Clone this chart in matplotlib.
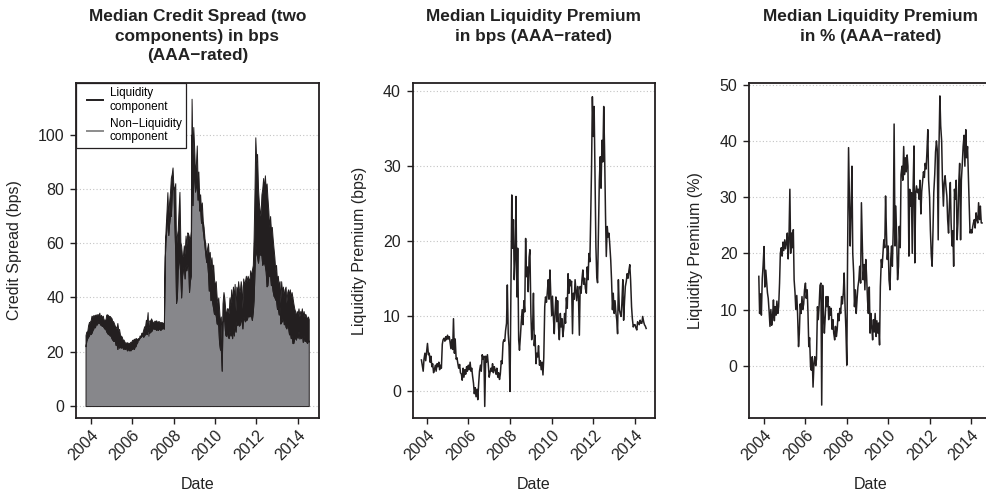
import numpy as np
import pandas as pd
import matplotlib
matplotlib.use("Agg")
import matplotlib.pyplot as plt
from matplotlib.lines import Line2D
from matplotlib.legend_handler import HandlerLine2D

plt.rcParams['font.family'] = ['Liberation Sans', 'DejaVu Sans']

# ---------------- data (semi-monthly observations, Oct 2003 - Jul 2014) ----------------
start_date = "2003-10-01"
n_obs = 260
dates = pd.date_range(start_date, periods=n_obs, freq="SMS")

# non-liquidity component of the median AAA credit spread (bps)
non_liquidity_bps = [
    22, 24, 25, 25.5, 26, 27,
    26.5, 27, 28, 28.5, 29.5, 29, 30.5, 30, 31.5, 30.5, 31, 30, 30, 29.5, 29.5, 29, 28.5, 28.5, 27.5, 27, 26.5, 26.5, 26, 26,
    25, 24.5, 24, 24, 24, 22.5, 23, 21, 23, 21.5, 22, 21.5, 22, 21.5, 21, 21.5, 21, 22, 20.5, 21.5, 20.5, 21, 20.5, 21,
    21, 21.5, 21, 22, 22, 23, 23.5, 25, 24.5, 26, 25.5, 27, 26, 25.5, 26, 26.5, 27, 26.5, 30, 28, 27, 27.5, 27.5, 28,
    29, 28.5, 28.5, 28.5, 28, 28.5, 28, 28.5, 28.5, 28, 29, 28.5, 29, 28.5, 55, 62, 66, 72, 63, 67, 70, 70, 78, 82,
    80, 68, 56, 38, 40, 50, 55, 53, 48, 40, 48, 50, 52, 47, 52, 50, 52, 53, 42, 46, 48, 100, 74, 84,
    84, 79, 81, 83, 76, 79, 72, 73, 67.5, 69, 64.6, 62, 59, 56, 53, 53.6, 48.8, 42.5, 45, 39, 40, 38, 36, 34,
    34, 33.4, 30.4, 30.4, 29.5, 23.5, 20.8, 21, 13, 31, 31.7, 31.5, 26.4, 25.8, 27.6, 25.7, 25, 27.6, 26, 27.4, 25, 29.2, 26, 30.4,
    27.4, 31, 29.8, 31.2, 29.6, 30, 32.1, 31.4, 28.6, 33.1, 32, 31.2, 31.9, 31.8, 33, 33.4, 33, 33.5, 33.2, 31.7, 34.8, 39.2, 50, 59.8,
    56, 55, 52.8, 55.8, 56.8, 55.6, 55.7, 52, 52.8, 53, 51.6, 49.5, 44.1, 44.5, 48.4, 48, 48.1, 44.5, 45, 42.5, 40.6, 40.2, 39.2, 39,
    35.7, 36, 33.7, 36.6, 30.4, 31.2, 31.2, 33.7, 30.1, 31.4, 29.2, 28.6, 30, 29.1, 26.4, 27.4, 25, 26, 23.2, 23.2, 24.8, 25.4, 24.5, 26.2,
    25.2, 27.6, 24.9, 25.8, 25, 27.2, 23.6, 26, 24, 24.1, 23.8, 23.2, 24.4, 23.7,
]

# median liquidity premium (bps)
liquidity_bps = [
    4.1, 3.4, 2.6, 4.2, 5.0, 4.0,
    5.2, 6.3, 4.8, 5.0, 3.8, 4.6, 3.2, 3.6, 2.4, 2.8, 3.4, 2.6, 3.6, 3.2, 3.8, 2.8, 3.4, 3.0, 6.2, 6.8, 7.0, 6.6, 7.2, 6.8,
    7.4, 6.9, 7.2, 6.4, 5.6, 6.8, 5.5, 9.6, 5.0, 6.9, 4.2, 4.4, 3.6, 3.0, 3.5, 2.4, 2.2, 1.4, 3.0, 1.8, 2.8, 2.2, 3.2, 2.6,
    3.4, 2.8, 3.8, 2.6, 3.0, 2.0, 1.0, -0.4, 0.4, -0.8, 0.2, -1.2, 1.0, 2.6, 3.4, 2.6, 4.8, 4.2, 4.6, -2.1, 4.6, 3.8, 4.8, 3.6,
    1.8, 2.4, 3.0, 2.6, 3.6, 2.4, 3.2, 2.8, 2.2, 3.0, 1.8, 2.4, 1.5, 2.2, 4.0, 3.6, 6.4, 6.8, 6.6, 8.0, 9.0, 14.1, 7.6, 5.9,
    -0.1, 12.0, 26.1, 19.0, 22.8, 14.8, 18.0, 25.9, 12.5, 19.0, 6.8, 5.4, 7.2, 9.0, 10.8, 8.8, 12.0, 10.5, 20.3, 15.2, 16.5, 13.2, 17.8, 18.8,
    10.3, 6.8, 8.6, 13.0, 6.0, 7.4, 3.6, 5.0, 4.5, 6.0, 3.4, 4.0, 2.8, 3.8, 2.1, 4.4, 11.2, 12.5, 11.8, 13.0, 14.8, 12.2, 16.1, 13.0,
    10.0, 12.6, 9.6, 7.6, 10.5, 12.5, 9.2, 12.0, 8.4, 6.8, 10.3, 8.5, 9.6, 7.2, 8.4, 10.3, 9.0, 12.4, 11.0, 15.6, 13.0, 14.8, 14.0, 14.6,
    7.6, 13.0, 12.2, 14.8, 13.4, 12.0, 13.9, 12.6, 7.4, 13.9, 13.0, 14.8, 16.1, 14.2, 15.0, 13.6, 13.0, 16.5, 14.8, 18.3, 17.2, 22.8, 30.0, 39.2,
    33.9, 37.9, 27.2, 19.2, 15.2, 14.4, 22.3, 28.0, 31.2, 27.0, 33.4, 30.5, 37.9, 32.5, 23.6, 17.9, 21.9, 20.5, 21.0, 19.5, 17.4, 14.8, 10.8, 13.0,
    10.3, 12.0, 10.3, 9.4, 7.6, 14.8, 10.8, 10.3, 9.9, 11.6, 14.8, 9.4, 12.0, 13.9, 14.6, 15.6, 15.0, 16.0, 16.8, 14.8, 11.2, 9.6, 8.5, 8.8,
    8.8, 8.4, 8.1, 9.2, 9.0, 8.8, 9.4, 9.0, 9.0, 9.9, 9.2, 8.8, 8.6, 8.3,
]

# median liquidity premium (% of credit spread)
liquidity_pct = [
    15.9, 9.3, 12.8, 9.0, 15.5, 17.7,
    21.2, 14.0, 17.0, 15.0, 13.0, 12.0, 9.5, 7.0, 10.0, 7.2, 9.0, 11.7, 8.0, 10.5, 9.0, 11.5, 9.3, 10.5, 14.7, 20.0, 21.0, 19.5, 22.0, 20.5,
    22.4, 20.8, 22.0, 23.6, 19.0, 22.0, 31.4, 20.0, 23.6, 21.0, 24.2, 15.3, 13.0, 10.0, 12.5, 9.3, 3.4, 5.8, 11.0, 9.3, 12.3, 10.0, 11.0, 13.5,
    14.7, 12.0, 13.5, 9.3, 3.4, 5.0, -0.2, -0.8, 1.6, -3.8, 0.5, 1.6, 0.0, 1.2, 10.5, 8.2, 11.0, 14.3, 14.7, -7.0, 14.3, 9.3, 5.8, 8.5,
    12.3, 10.5, 12.3, 8.2, 10.5, 9.0, 10.2, 6.5, 8.2, 5.8, 4.6, 7.0, 5.2, 6.4, 9.3, 8.0, 10.2, 9.3, 12.3, 11.0, 13.0, 16.5, 10.5, 6.8,
    0.1, 20.0, 38.8, 30.8, 21.3, 27.2, 35.5, 20.0, 16.5, 10.5, 13.5, 9.3, 12.0, 14.0, 15.3, 17.7, 14.7, 29.0, 21.3, 15.3, 18.0, 13.5, 18.9, 16.0,
    11.7, 9.3, 14.0, 5.8, 9.3, 7.0, 4.6, 8.2, 6.0, 9.3, 5.2, 8.0, 5.8, 7.6, 3.7, 14.0, 18.9, 17.5, 20.0, 22.4, 21.0, 30.2, 23.6, 18.9,
    21.3, 15.3, 13.5, 19.0, 21.3, 17.7, 24.8, 43.0, 21.3, 28.4, 22.0, 15.3, 17.7, 24.8, 21.0, 34.0, 35.5, 33.0, 39.0, 34.0, 37.0, 34.5, 37.5, 35.5,
    19.5, 31.4, 28.4, 30.8, 20.0, 31.0, 39.1, 18.3, 30.8, 32.0, 30.8, 31.4, 29.6, 33.0, 27.0, 31.0, 33.0, 34.5, 33.5, 36.0, 35.0, 38.0, 42.0, 33.0,
    30.0, 24.2, 19.5, 17.7, 24.0, 30.8, 34.0, 38.0, 40.0, 38.5, 22.4, 39.0, 48.0, 42.7, 40.0, 33.0, 28.4, 32.5, 33.8, 32.0, 30.2, 26.0, 23.6, 28.4,
    32.6, 25.4, 21.3, 24.0, 17.7, 31.4, 29.6, 33.0, 22.4, 25.4, 33.0, 36.0, 22.4, 33.0, 36.0, 39.0, 41.0, 35.5, 42.0, 37.0, 39.0, 33.8, 28.4, 23.6,
    24.2, 23.6, 24.8, 25.5, 26.0, 24.5, 27.2, 26.0, 25.4, 29.0, 26.0, 28.4, 25.4, 25.4,
]

titles = [
    "Median Credit Spread (two\ncomponents) in bps\n(AAA\u2212rated)",
    "Median Liquidity Premium\nin bps (AAA\u2212rated)",
    "Median Liquidity Premium\nin % (AAA\u2212rated)",
]
ylabels = ["Credit Spread (bps)", "Liquidity Premium (bps)", "Liquidity Premium (%)"]
xlabel = "Date"
legend_labels = ["Liquidity\ncomponent", "Non\u2212Liquidity\ncomponent"]
year_ticks = [2004, 2006, 2008, 2010, 2012, 2014]
yticks = [[0, 20, 40, 60, 80, 100], [0, 10, 20, 30, 40], [0, 10, 20, 30, 40, 50]]
ylims = [(-4.4, 119), (-3.64, 41.03), (-9.3, 50.3)]
xlims = [("2003-04-16", "2015-01-12"), ("2003-05-01", "2014-12-17"), ("2003-04-16", "2015-01-12")]

# ---------------- styling ----------------
DARK = "#231f20"
GRAY = "#87878b"
W, H = 987, 496

fig = plt.figure(figsize=(W / 100, H / 100), dpi=100)
lefts = [76, 412.7, 749.3]
widths = [243, 242.3, 243]
axes = [fig.add_axes([l / W, 78 / H, w / W, 335 / H]) for l, w in zip(lefts, widths)]
ylab_x = [-0.2235, -0.19, -0.189]

for i, ax in enumerate(axes):
    for s in ax.spines.values():
        s.set_color(DARK)
        s.set_linewidth(1.3)
    ax.set_axisbelow(True)
    ax.yaxis.grid(True, linestyle=(0, (1, 2)), color="#c4c4c4", linewidth=0.8)
    ax.set_ylim(*ylims[i])
    ax.set_xlim(pd.Timestamp(xlims[i][0]), pd.Timestamp(xlims[i][1]))
    ax.set_yticks(yticks[i])
    ax.set_yticklabels([str(v) for v in yticks[i]])
    ax.set_xticks([pd.Timestamp(f"{y}-01-01") for y in year_ticks])
    ax.set_xticklabels([str(y) for y in year_ticks], rotation=45, ha="right",
                       rotation_mode="anchor", va="top")
    ax.tick_params(direction="out", length=4.5, width=1, colors=DARK,
                   labelsize=11.5, pad=4, labelcolor="#222222")
    ax.tick_params(axis="x", pad=2.5)
    ax.set_ylabel(ylabels[i], fontsize=11.5, color="#222222")
    ax.yaxis.set_label_coords(ylab_x[i], 0.5)
    ax.set_xlabel(xlabel, fontsize=11.5, color="#222222", va="top")
    ax.xaxis.set_label_coords(0.5, -0.175)
    cx = (lefts[i] + widths[i] / 2) / W
    fig.text(cx, 1 - 9 / H, titles[i], ha="center", va="top", fontsize=12.4,
             fontweight="bold", linespacing=1.38, color="#222222")

# panel 1: stacked components
ax1 = axes[0]
ax1.stackplot(dates, non_liquidity_bps, liquidity_bps, colors=[GRAY, DARK],
              edgecolor=DARK, linewidth=0.7)
handles = [Line2D([], [], color=DARK, lw=1.4), Line2D([], [], color="#8c8c8c", lw=1.4)]
leg = ax1.legend(handles, legend_labels, loc="upper left", bbox_to_anchor=(0, 1),
                 borderaxespad=0, fontsize=8.5, fancybox=False, framealpha=1,
                 edgecolor=DARK, handlelength=1.9, handletextpad=0.6,
                 borderpad=0.35, labelspacing=0.4,
                 handler_map={Line2D: HandlerLine2D(xpad=0.6)})
leg.get_frame().set_linewidth(0.9)

# panel 2 & 3: lines
axes[1].plot(dates, liquidity_bps, color=DARK, lw=1.1)
axes[2].plot(dates, liquidity_pct, color=DARK, lw=1.1)

fig.savefig("out.png", dpi=100)
